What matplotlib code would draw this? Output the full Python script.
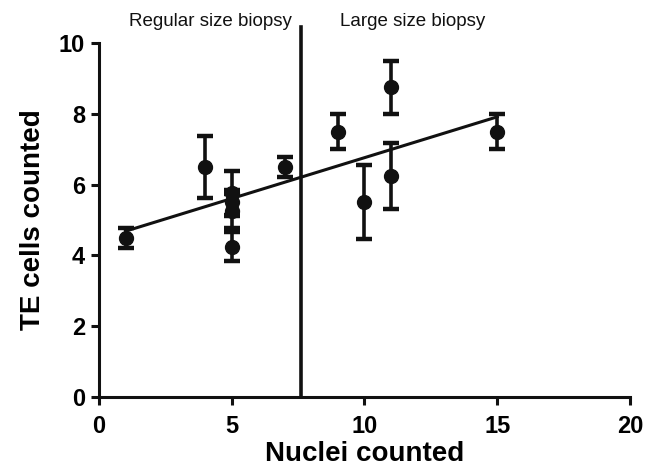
import numpy as np
import matplotlib
matplotlib.use("Agg")
import matplotlib.pyplot as plt

plt.rcParams['font.family'] = ['Liberation Sans', 'DejaVu Sans']

nuclei = [1, 4, 5, 5, 5, 5, 7, 9, 10, 11, 11, 15]
te_mean = [4.5, 6.5, 4.25, 5.25, 5.5, 5.75, 6.5, 7.5, 5.5, 8.75, 6.25, 7.5]
te_err = [0.28, 0.87, 0.4, 0.48, 0.35, 0.63, 0.28, 0.5, 1.05, 0.75, 0.93, 0.5]
boundary = 7.6
region_labels = ["Regular size biopsy", "Large size biopsy"]

x = np.array(nuclei, dtype=float)
y = np.array(te_mean, dtype=float)
slope, intercept = np.polyfit(x, y, 1)

fig = plt.figure(figsize=(6.6, 4.73), dpi=100)
ax = fig.add_axes([0.15, 0.1607, 0.8045, 0.7483])
col = '#111111'

xs = np.array([x.min(), x.max()])
ax.plot(xs, slope * xs + intercept, color=col, lw=2.2, zorder=2)
ax.errorbar(x, y, yerr=te_err, fmt='o', color=col, ms=10, elinewidth=2.6,
            capsize=5.5, capthick=3.2, zorder=3)
ax.plot([boundary, boundary], [0, 10.45], color=col, lw=2.6, clip_on=False, zorder=4)

ax.text(4.18, 10.6, region_labels[0], ha='center', va='center', fontsize=13.5, color=col)
ax.text(11.8, 10.6, region_labels[1], ha='center', va='center', fontsize=13.5, color=col)

ax.set_xlim(0, 20)
ax.set_ylim(0, 10)
ax.set_xticks([0, 5, 10, 15, 20])
ax.set_yticks([0, 2, 4, 6, 8, 10])
for s in ['top', 'right']:
    ax.spines[s].set_visible(False)
for s in ['left', 'bottom']:
    ax.spines[s].set_linewidth(2.2)
    ax.spines[s].set_color(col)
ax.tick_params(width=2.2, length=6, color=col, labelsize=17)
ax.tick_params(axis='x', pad=7)
ax.tick_params(axis='y', pad=4)
for lab in ax.get_xticklabels() + ax.get_yticklabels():
    lab.set_fontweight('bold')
ax.set_xlabel('Nuclei counted', fontsize=20, fontweight='bold', labelpad=2)
ax.set_ylabel('TE cells counted', fontsize=20, fontweight='bold', labelpad=9)

fig.savefig('out.png', dpi=100)
